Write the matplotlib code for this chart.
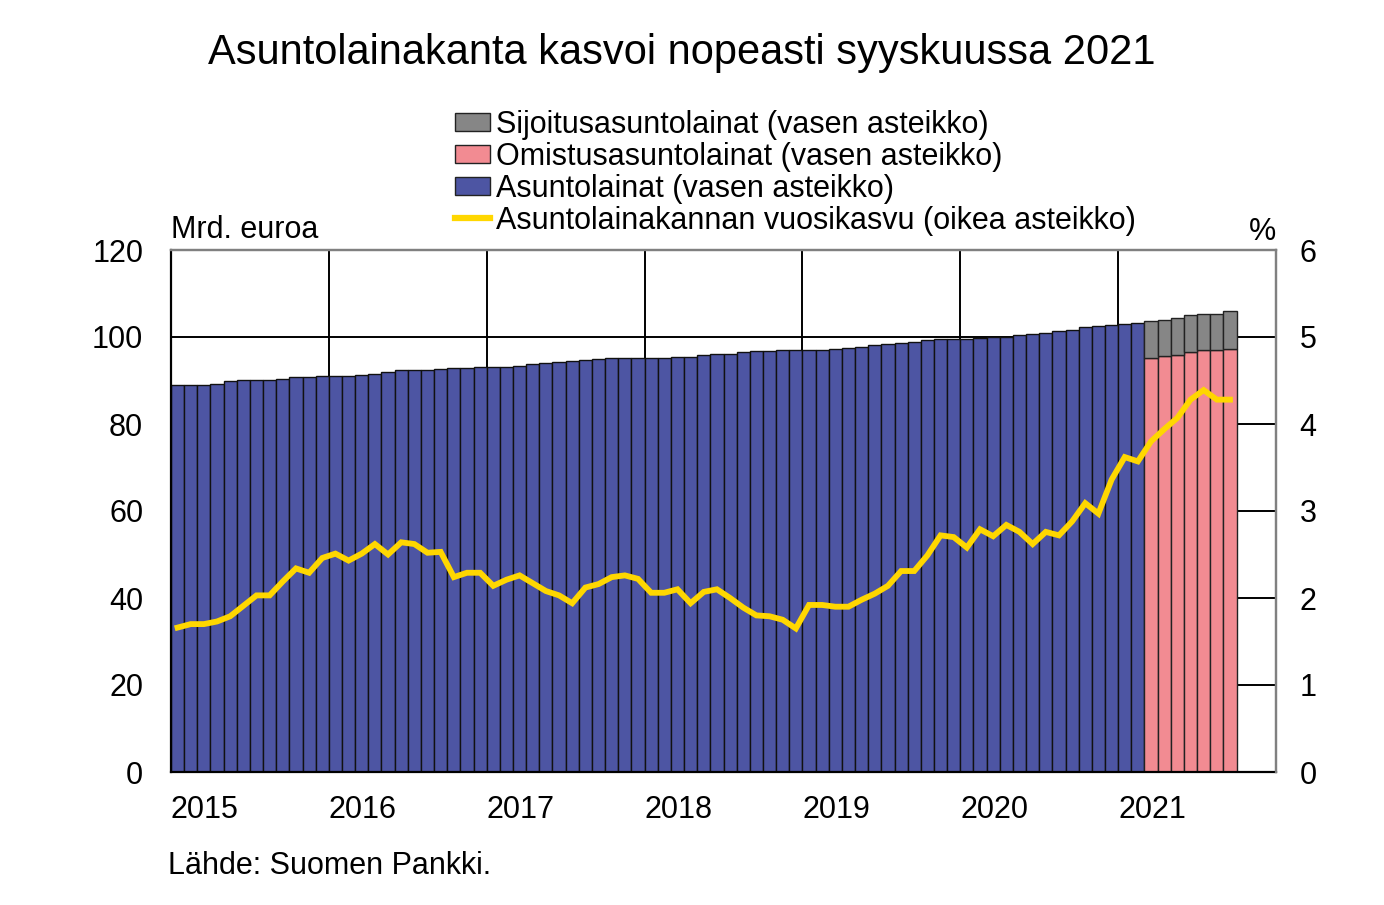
import numpy as np
import pandas as pd
import matplotlib
matplotlib.use('Agg')
import matplotlib.pyplot as plt
from matplotlib.patches import Patch
from matplotlib.lines import Line2D

plt.rcParams['font.family'] = ['Liberation Sans', 'DejaVu Sans']

# Monthly data, Jan 2015 - Sep 2021
months = pd.period_range('2015-01', '2021-09', freq='M')

# Asuntolainat (mrd. euroa), Jan 2015 - Feb 2021
asuntolainat = [89.0, 89.0, 89.0, 89.3, 89.8, 90.0, 90.2, 90.2, 90.4, 90.9, 90.9, 91.1,
                91.1, 91.1, 91.3, 91.6, 91.9, 92.3, 92.5, 92.5, 92.7, 92.9, 92.9, 93.2,
                93.2, 93.2, 93.4, 93.7, 94.0, 94.2, 94.4, 94.6, 94.9, 95.1, 95.2, 95.2,
                95.1, 95.1, 95.3, 95.5, 95.8, 96.2, 96.2, 96.5, 96.7, 96.7, 96.9, 96.9,
                96.9, 96.9, 97.2, 97.4, 97.6, 98.1, 98.4, 98.6, 98.8, 99.2, 99.5, 99.5,
                99.5, 99.7, 99.9, 99.9, 100.5, 100.7, 100.9, 101.3, 101.6, 102.2, 102.5, 102.8,
                103.0, 103.2]
# Mar 2021 - Sep 2021
omistus = [95.2, 95.7, 95.9, 96.5, 96.9, 97.1, 97.2]
sijoitus = [8.4, 8.2, 8.4, 8.6, 8.4, 8.3, 8.7]

# Vuosikasvu (%)
vuosikasvu = [1.66, 1.70, 1.70, 1.73, 1.79, 1.91, 2.03, 2.03, 2.19, 2.34, 2.29, 2.46,
              2.51, 2.43, 2.51, 2.62, 2.50, 2.64, 2.62, 2.52, 2.53, 2.24, 2.29, 2.29,
              2.14, 2.21, 2.26, 2.17, 2.08, 2.03, 1.94, 2.12, 2.16, 2.24, 2.26, 2.22,
              2.06, 2.06, 2.10, 1.94, 2.07, 2.10, 2.00, 1.89, 1.80, 1.79, 1.75, 1.65,
              1.92, 1.92, 1.90, 1.90, 1.98, 2.05, 2.14, 2.31, 2.31, 2.49, 2.72, 2.70,
              2.58, 2.79, 2.71, 2.84, 2.76, 2.62, 2.76, 2.72, 2.88, 3.09, 2.97, 3.36,
              3.62, 3.57, 3.80, 3.94, 4.07, 4.28, 4.39, 4.28, 4.28]

years = ['2015', '2016', '2017', '2018', '2019', '2020', '2021']

BLUE = '#4d55a3'
PINK = '#f28b92'
GRAY = '#868686'
YELLOW = '#ffd700'
FS = 22

fig = plt.figure(figsize=(13.84, 9.05), dpi=100)
ax = fig.add_axes([171/1384, 1-772/905, (1276-171)/1384, (772-250)/905])

x = np.arange(len(months))
n_old = len(asuntolainat)
x_old = x[:n_old]
x_new = x[n_old:]

ax.bar(x_old, asuntolainat, width=1.0, color=BLUE, edgecolor='#111111', linewidth=1.0, zorder=2)
ax.bar(x_new, omistus, width=1.0, color=PINK, edgecolor='#222222', linewidth=1.0, zorder=2)
ax.bar(x_new, sijoitus, bottom=omistus, width=1.0, color=GRAY, edgecolor='#222222', linewidth=1.0, zorder=2)

ax.set_xlim(-0.5, 83.5)
ax.set_ylim(0, 120)
ax.set_yticks(np.arange(0, 121, 20))
ax.tick_params(axis='y', length=0, labelsize=FS, pad=20)
ax.set_xticks([])

# grid lines
for yv in range(20, 120, 20):
    ax.axhline(yv, color='black', linewidth=1.4, zorder=1)
for i in range(1, len(years)):
    ax.axvline(-0.5 + 12 * i, color='black', linewidth=1.4, zorder=1)

for s in ['left', 'bottom']:
    ax.spines[s].set_color('black')
    ax.spines[s].set_linewidth(1.6)
for s in ['top', 'right']:
    ax.spines[s].set_color('#808080')
    ax.spines[s].set_linewidth(1.6)

for i, yr in enumerate(years):
    ax.text(-0.5 + 12 * i, -5.2, yr, ha='left', va='top', fontsize=FS)

ax2 = ax.twinx()
ax2.plot(x, vuosikasvu, color=YELLOW, linewidth=4.2, solid_joinstyle='miter', zorder=3)
ax2.set_ylim(0, 6)
ax2.set_yticks(range(0, 7))
ax2.tick_params(axis='y', length=0, labelsize=FS, pad=17)
for s in ['left', 'bottom']:
    ax2.spines[s].set_visible(False)
for s in ['top', 'right']:
    ax2.spines[s].set_color('#808080')
    ax2.spines[s].set_linewidth(1.6)

fig.text(171/1384, 1-230/905, 'Mrd. euroa', ha='left', va='center', fontsize=FS)
fig.text(1276/1384, 1-232/905, '%', ha='right', va='center', fontsize=FS)

fig.text(682/1384, 1-53/905, 'Asuntolainakanta kasvoi nopeasti syyskuussa 2021',
         ha='center', va='center', fontsize=30)

handles = [Patch(facecolor=GRAY, edgecolor='#222222'),
           Patch(facecolor=PINK, edgecolor='#222222'),
           Patch(facecolor=BLUE, edgecolor='#222222'),
           Line2D([0], [0], color=YELLOW, linewidth=4.5)]
labels = ['Sijoitusasuntolainat (vasen asteikko)',
          'Omistusasuntolainat (vasen asteikko)',
          'Asuntolainat (vasen asteikko)',
          'Asuntolainakannan vuosikasvu (oikea asteikko)']
fig.legend(handles, labels, loc='upper left', bbox_to_anchor=(455/1384, 1-110/905),
           frameon=False, fontsize=FS, handlelength=1.15, handleheight=0.55,
           handletextpad=0.18, labelspacing=0.06, borderaxespad=0, borderpad=0)

fig.text(168/1384, 1-866/905, 'Lähde: Suomen Pankki.', ha='left', va='center', fontsize=FS)

fig.savefig('out.png', dpi=100)
